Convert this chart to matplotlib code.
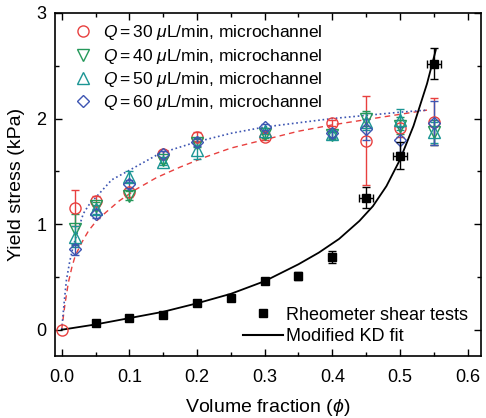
import numpy as np
import matplotlib
matplotlib.use("Agg")
import matplotlib.pyplot as plt
from matplotlib.ticker import MultipleLocator
from matplotlib.lines import Line2D

plt.rcParams['font.family'] = ['Liberation Sans', 'DejaVu Sans']
plt.rcParams['mathtext.fontset'] = 'custom'
plt.rcParams['mathtext.rm'] = 'Liberation Sans'
plt.rcParams['mathtext.it'] = 'Liberation Sans:italic'

# microchannel data
phi_mc = [0.02, 0.05, 0.10, 0.15, 0.20, 0.30, 0.40, 0.45, 0.50, 0.55]
q30 = [1.15, 1.22, 1.30, 1.66, 1.83, 1.83, 1.96, 1.79, 1.91, 1.97]
q30_err = [0.17, 0.05, 0.04, 0.03, 0.04, 0.03, 0.03, 0.42, 0.08, 0.22]
q40 = [0.95, 1.17, 1.27, 1.61, 1.77, 1.85, 1.84, 2.00, 1.93, 1.87]
q40_err = [0.15, 0.04, 0.04, 0.03, 0.04, 0.03, 0.03, 0.07, 0.08, 0.12]
q50 = [0.88, 1.14, 1.45, 1.59, 1.70, 1.88, 1.85, 1.97, 1.99, 1.87]
q50_err = [0.10, 0.04, 0.05, 0.03, 0.08, 0.03, 0.03, 0.08, 0.10, 0.10]
q60 = [0.76, 1.10, 1.38, 1.66, 1.78, 1.92, 1.86, 1.90, 1.80, 1.96]
q60_err = [0.05, 0.04, 0.04, 0.03, 0.04, 0.03, 0.03, 0.10, 0.12, 0.21]

# rheometer data
phi_rh = [0.05, 0.10, 0.15, 0.20, 0.25, 0.30, 0.35, 0.40, 0.45, 0.50, 0.55]
tau_rh = [0.06, 0.11, 0.14, 0.25, 0.30, 0.46, 0.51, 0.69, 1.25, 1.65, 2.52]
tau_rh_err = [0.01, 0.01, 0.01, 0.01, 0.01, 0.02, 0.04, 0.06, 0.10, 0.13, 0.15]
phi_rh_err = [0, 0, 0, 0, 0, 0, 0, 0, 0.01, 0.01, 0.01]

# curves
kd_phi = [0, 0.05, 0.10, 0.15, 0.20, 0.25, 0.30, 0.35, 0.38, 0.41, 0.44, 0.46, 0.48, 0.50, 0.52, 0.54, 0.553]
kd_tau = [0, 0.05, 0.11, 0.17, 0.25, 0.34, 0.46, 0.62, 0.73, 0.86, 1.03, 1.17, 1.36, 1.61, 1.93, 2.33, 2.65]
red_phi = [0, 0.005, 0.01, 0.015, 0.02, 0.03, 0.04, 0.05, 0.065, 0.085, 0.11, 0.14, 0.175, 0.21, 0.25, 0.30, 0.35, 0.40, 0.45, 0.50, 0.54]
red_tau = [0, 0.25, 0.45, 0.59, 0.70, 0.83, 0.94, 1.02, 1.11, 1.22, 1.33, 1.44, 1.54, 1.63, 1.72, 1.80, 1.88, 1.94, 1.99, 2.04, 2.08]
blue_phi = [0, 0.004, 0.007, 0.012, 0.017, 0.025, 0.032, 0.04, 0.05, 0.074, 0.10, 0.145, 0.20, 0.25, 0.30, 0.35, 0.40, 0.45, 0.50, 0.54]
blue_tau = [0, 0.28, 0.47, 0.65, 0.79, 0.96, 1.10, 1.18, 1.25, 1.42, 1.51, 1.67, 1.78, 1.86, 1.92, 1.96, 2.00, 2.03, 2.06, 2.08]

c_red = '#e8403f'
c_green = '#25985a'
c_teal = '#1b9594'
c_blue = '#3d55b2'

fig = plt.figure(figsize=(4.86, 4.18), dpi=100)
ax = fig.add_axes([0.113, 0.148, 0.877, 0.821])

ax.plot(red_phi, red_tau, '--', color=c_red, lw=1.0, dashes=(4, 3))
ax.plot(blue_phi, blue_tau, ':', color=c_blue, lw=1.2)
ax.plot(kd_phi, kd_tau, '-', color='black', lw=1.3)

series = [(q30, q30_err, 'o', c_red, '30'),
          (q40, q40_err, 'v', c_green, '40'),
          (q50, q50_err, '^', c_teal, '50'),
          (q60, q60_err, 'D', c_blue, '60')]
handles = []
for vals, err, mk, col, q in series:
    ms = 6 if mk == 'D' else 8
    ax.errorbar(phi_mc, vals, yerr=err, fmt=mk, color=col, mfc='none', mec=col,
                ms=ms, mew=1.0, elinewidth=1.0, capsize=3, capthick=1.0)
    handles.append(Line2D([], [], ls='none', marker=mk, color=col, mfc='none',
                          ms=ms, mew=1.0,
                          label=r'$Q = %s$ $\mu$L/min, microchannel' % q))
ax.plot([0], [0], 'o', color=c_red, mfc='none', ms=8, mew=1.0)

ax.errorbar(phi_rh, tau_rh, yerr=tau_rh_err, xerr=phi_rh_err, fmt='s', color='black',
            ms=6, elinewidth=1.0, capsize=3, capthick=1.0, zorder=5)

leg1 = ax.legend(handles=handles, loc='upper left', frameon=False, fontsize=12.5,
                 handletextpad=0.45, borderaxespad=0.2, labelspacing=0.25,
                 handlelength=1.5, bbox_to_anchor=(0.01, 1.0))
ax.add_artist(leg1)
h2 = [Line2D([], [], ls='none', marker='s', color='black', ms=6, label='Rheometer shear tests'),
      Line2D([], [], ls='-', color='black', lw=1.5, label='Modified KD fit')]
ax.legend(handles=h2, loc='lower right', frameon=False, fontsize=13,
          handletextpad=0.2, borderaxespad=0.2, labelspacing=0.25,
          handlelength=2.2, bbox_to_anchor=(0.995, 0.0))

ax.set_xlim(-0.01, 0.62)
ax.set_ylim(-0.25, 3)
ax.xaxis.set_major_locator(MultipleLocator(0.1))
ax.xaxis.set_minor_locator(MultipleLocator(0.05))
ax.yaxis.set_major_locator(MultipleLocator(1))
ax.yaxis.set_minor_locator(MultipleLocator(0.5))
ax.xaxis.set_major_formatter(plt.FormatStrFormatter('%.1f'))
ax.tick_params(which='both', direction='in', top=True, right=True, labelsize=13, width=1.0)
ax.tick_params(which='major', length=5)
ax.tick_params(axis='x', which='major', pad=9)
ax.tick_params(axis='y', which='major', pad=6)
ax.tick_params(which='minor', length=3)
for s in ax.spines.values():
    s.set_linewidth(1.2)

ax.set_xlabel(r'Volume fraction ($\phi$)', fontsize=14, labelpad=8)
ax.set_ylabel('Yield stress (kPa)', fontsize=14, labelpad=8)

fig.savefig('out.png', dpi=100)
